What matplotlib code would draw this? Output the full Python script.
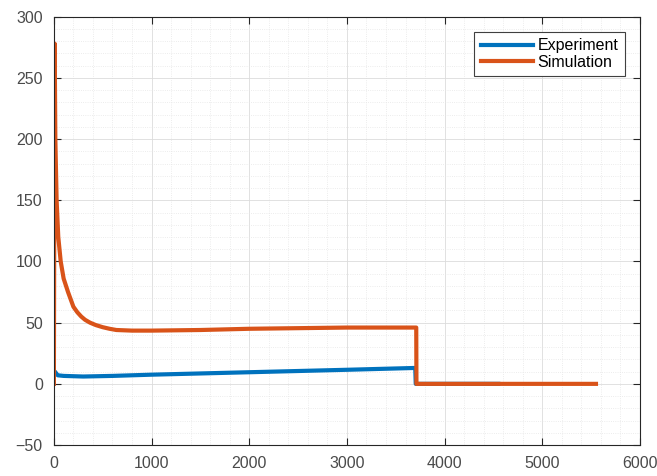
import numpy as np
import matplotlib
matplotlib.use('Agg')
from matplotlib import pyplot as plt
from matplotlib.ticker import MultipleLocator

plt.rcParams['font.family'] = ['Liberation Sans', 'DejaVu Sans']

# measured response (blue) and model output (orange)
exp_t = [20, 40, 100, 300, 600, 1000, 2000, 3000, 3700, 3705, 4550]
exp_v = [9, 7, 6.5, 6, 6.5, 7.5, 9.5, 11.5, 13, 0, 0]

sim_t = [0, 8, 15, 28, 45, 70, 100, 145, 200, 240, 280, 320, 370, 430, 500,
         570, 640, 800, 1000, 1500, 2000, 2500, 3000, 3500, 3710, 3712, 5550]
sim_v = [0, 278, 200, 150, 120, 100, 86, 75, 63, 58.5, 55, 52.3, 50, 48,
         46.3, 45, 44, 43.5, 43.5, 44, 45, 45.5, 46, 46, 46, 0, 0]

fig = plt.figure(figsize=(6.57, 4.76), dpi=100)
ax = fig.add_axes([0.082, 0.065, 0.892, 0.9])

ax.plot(exp_t, exp_v, color='#0072BD', lw=3, label='Experiment')
ax.plot(sim_t, sim_v, color='#D95319', lw=3, label='Simulation')

ax.set_xlim(0, 6000)
ax.set_ylim(-50, 300)
ax.xaxis.set_major_locator(MultipleLocator(1000))
ax.yaxis.set_major_locator(MultipleLocator(50))
ax.xaxis.set_minor_locator(MultipleLocator(200))
ax.yaxis.set_minor_locator(MultipleLocator(10))

ax.grid(which='major', color='#dcdcdc', lw=0.6)
ax.grid(which='minor', color='#e6e6e6', lw=0.6, ls=':')
ax.set_axisbelow(True)

ax.tick_params(which='both', direction='in', top=True, right=True,
               labelsize=11.5, labelcolor='#4a4a4a', color='#262626')
ax.tick_params(which='minor', length=0)
ax.tick_params(which='major', length=5)
ax.tick_params(axis='y', pad=8)
ax.tick_params(axis='x', pad=8)
for s in ax.spines.values():
    s.set_color('#262626')
    s.set_linewidth(0.8)

leg = ax.legend(loc='upper right', fontsize=11.5, handlelength=3.3,
                fancybox=False, framealpha=1, edgecolor='#404040',
                borderaxespad=0.95, handletextpad=0.25, labelspacing=0.1,
                borderpad=0.4)
leg.get_frame().set_linewidth(0.8)

fig.savefig('out.png', dpi=100)
